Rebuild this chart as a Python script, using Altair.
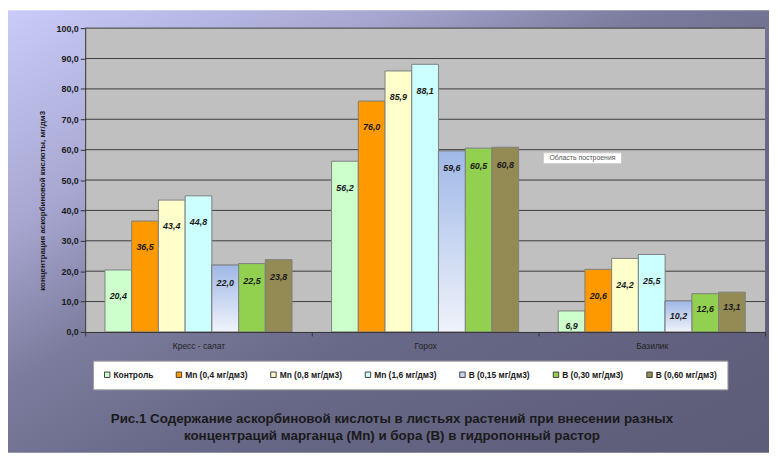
import altair as alt
import pandas as pd

# ---- data ----
categories = ["Кресс - салат", "Горох", "Базилик"]
series = [
    "Контроль",
    "Mn (0,4 мг/дм3)",
    "Mn (0,8 мг/дм3)",
    "Mn (1,6 мг/дм3)",
    "В (0,15 мг/дм3)",
    "В (0,30 мг/дм3)",
    "В (0,60 мг/дм3)",
]
values_kress = [20.4, 36.5, 43.4, 44.8, 22.0, 22.5, 23.8]
values_goroh = [56.2, 76.0, 85.9, 88.1, 59.6, 60.5, 60.8]
values_bazilik = [6.9, 20.6, 24.2, 25.5, 10.2, 12.6, 13.1]
series_colors = ["#ccffcc", "#ff9900", "#ffffcc", "#ccffff", "#c9d6f0", "#92d050", "#948a54"]
y_ticks = [0, 10, 20, 30, 40, 50, 60, 70, 80, 90, 100]

title_lines = [
    "Рис.1 Содержание аскорбиновой кислоты в листьях растений при внесении  разных",
    "концентраций марганца (Mn) и бора (В) в гидропонный растор",
]
y_title = "концентрация аскорбиновой кислоты, мг/дм3"

rows = []
for cat, vals in zip(categories, [values_kress, values_goroh, values_bazilik]):
    for s, v in zip(series, vals):
        rows.append({"cat": cat, "series": s, "value": v})
df = pd.DataFrame(rows)
grid_df = pd.DataFrame({"value": y_ticks[1:]})

FONT = "Liberation Sans, Arial, sans-serif"
W, H = 687, 307
PAD_BOTTOM = 122

yscale = alt.Scale(domain=[0, 100], nice=False, zero=True)
xscale = alt.Scale(paddingInner=0, paddingOuter=0)
xoff = alt.XOffset("series:N", sort=series,
                   scale=alt.Scale(domain=series, paddingInner=0, paddingOuter=0.74))

x_axis = alt.Axis(
    title=None, labelAngle=0, labelFontSize=8.5, labelColor="#222222",
    labelFont=FONT, tickBand="extent", tickSize=4, tickColor="#333333",
    domainColor="#333333", labelPadding=6, zindex=1,
)
y_axis = alt.Axis(
    values=y_ticks, grid=False, title=y_title,
    labelExpr="replace(format(datum.value, '.1f'), '.', ',')",
    labelFontSize=9, labelFontWeight="bold", labelColor="#1a1a1a", labelFont=FONT,
    tickSize=5, tickColor="#333333", domainColor="#333333", labelPadding=2,
    titleFontSize=8, titleFontWeight="bold", titleColor="#1a1a1a", titleFont=FONT,
    titleX=-43, titleY=174, titleAngle=270, titleBaseline="middle", titleAlign="center",
    zindex=1,
)


def X():
    return alt.X("cat:N", sort=categories, scale=xscale, axis=x_axis)


def Y():
    return alt.Y("value:Q", scale=yscale, axis=y_axis)


bg_grad = alt.Gradient(
    gradient="linear",
    stops=[
        alt.GradientStop(color="#cbcbfa", offset=0),
        alt.GradientStop(color="#a6a6d0", offset=0.25),
        alt.GradientStop(color="#7c7c9e", offset=0.42),
        alt.GradientStop(color="#686888", offset=0.6),
        alt.GradientStop(color="#5c5c78", offset=1),
    ],
    x1=0, y1=0, x2=1, y2=1,
)
blue_grad = alt.Gradient(
    gradient="linear",
    stops=[
        alt.GradientStop(color="#9fb8e6", offset=0),
        alt.GradientStop(color="#f0f3fb", offset=1),
    ],
    x1=0, y1=0, x2=0, y2=1,
)

one = alt.Data(values=[{}])

background = alt.Chart(one).mark_rect(fill=bg_grad).encode(
    x=alt.value(-78), x2=alt.value(W + 4), y=alt.value(-18), y2=alt.value(H + PAD_BOTTOM)
)
plot_bg = alt.Chart(one).mark_rect(fill="#c0c0c0").encode(
    x=alt.value(0), x2=alt.value(W), y=alt.value(0), y2=alt.value(H)
)
grid = alt.Chart(grid_df).mark_rule(color="#3c3c3c", strokeWidth=1).encode(y=Y())

bars = alt.Chart(df).mark_bar(stroke="#808080", strokeWidth=1).encode(
    x=X(),
    xOffset=xoff,
    y=Y(),
    color=alt.Color(
        "series:N", sort=series,
        scale=alt.Scale(domain=series, range=series_colors),
        legend=alt.Legend(
            title=None, orient="none", legendX=8, legendY=336, direction="horizontal",
            columns=7, fillColor="white", strokeColor="#a0a0a0", padding=10,
            labelFontSize=8.5, labelFontWeight="bold", labelColor="#1a1a1a", labelFont=FONT,
            symbolType="square", symbolSize=30, symbolStrokeColor="#404040",
            symbolStrokeWidth=1, columnPadding=20.5, labelOffset=2, zindex=1,
        ),
    ),
)

blue_bars = alt.Chart(df).transform_filter(
    alt.datum.series == series[4]
).mark_bar(fill=blue_grad, stroke="#808080", strokeWidth=1).encode(
    x=X(), xOffset=xoff, y=Y(),
)

labels = alt.Chart(df).transform_calculate(
    lbl="replace(format(datum.value, '.1f'), '.', ',')",
).transform_calculate(
    value="datum.value < 14 ? datum.value - 4.9 : (substring(datum.series, 0, 1) == 'В' ? datum.value - 5.8 : datum.value - 8.7)",
).mark_text(
    fontSize=9, fontWeight="bold", fontStyle="italic", color="#1a1a1a",
    font=FONT, baseline="middle", align="center",
).encode(
    x=X(), xOffset=xoff, y=Y(), text="lbl:N",
)

tip_box = alt.Chart(one).mark_rect(fill="white", stroke="#c8c8c8", strokeWidth=1).encode(
    x=alt.value(463), x2=alt.value(542), y=alt.value(126), y2=alt.value(137)
)
tip_text = alt.Chart(one).mark_text(
    text="Область построения", fontSize=7, color="#555555", font=FONT,
    align="center", baseline="middle",
).encode(x=alt.value(502.5), y=alt.value(131.5))

title_text = alt.Chart(one).mark_text(
    text=title_lines, fontSize=13.5, fontWeight="bold", color="#1a1a1a", font=FONT,
    lineHeight=17, align="center", baseline="top",
).encode(x=alt.value(310), y=alt.value(388))

chart = alt.layer(
    background, plot_bg, grid, bars, blue_bars, labels, tip_box, tip_text, title_text
).properties(
    width=W, height=H,
    autosize=alt.AutoSizeParams(type="none"),
    padding={"left": 78, "top": 18, "right": 4, "bottom": PAD_BOTTOM},
).configure_view(stroke=None)

chart.save("out.html", embed_options={"renderer": "svg", "actions": False})
